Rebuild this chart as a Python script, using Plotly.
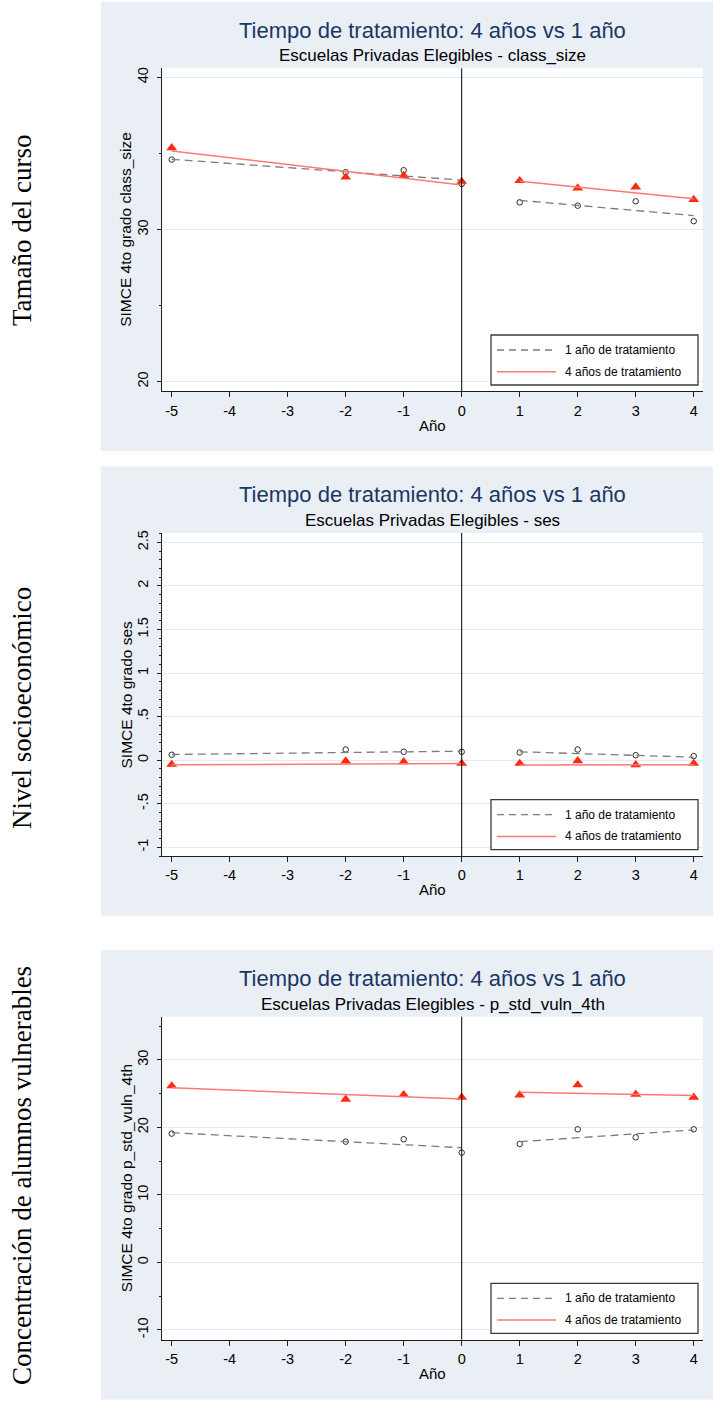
import plotly.graph_objects as go

W, H = 713, 1409

# ---------------- data ----------------
years = [-5, -2, -1, 0, 1, 2, 3, 4]
x_ticks = [-5, -4, -3, -2, -1, 0, 1, 2, 3, 4]
fit_pre_x = [-5, 0]
fit_post_x = [1, 4]

variables = ["class_size", "ses", "p_std_vuln_4th"]
row_labels = ["Tamaño del curso", "Nivel socioeconómico",
              "Concentración de alumnos vulnerables"]
series_names = ["1 año de tratamiento", "4 años de tratamiento"]

class_size_1yr = [34.60, 33.77, 33.90, 33.00, 31.79, 31.57, 31.86, 30.55]
class_size_4yr = [35.37, 33.44, 33.55, 33.16, 33.21, 32.73, 32.79, 31.97]
class_size_fit_1yr_pre = [34.62, 33.25]
class_size_fit_1yr_post = [31.92, 30.92]
class_size_fit_4yr_pre = [35.17, 32.93]
class_size_fit_4yr_post = [33.17, 32.03]

ses_1yr = [0.062, 0.122, 0.096, 0.096, 0.088, 0.122, 0.057, 0.046]
ses_4yr = [-0.049, -0.011, -0.019, -0.038, -0.038, -0.008, -0.053, -0.038]
ses_fit_1yr_pre = [0.065, 0.103]
ses_fit_1yr_post = [0.096, 0.034]
ses_fit_4yr_pre = [-0.053, -0.038]
ses_fit_4yr_post = [-0.057, -0.053]

vuln_1yr = [19.09, 17.90, 18.25, 16.27, 17.56, 19.73, 18.54, 19.73]
vuln_4yr = [26.15, 24.17, 24.86, 24.47, 24.81, 26.30, 24.91, 24.47]
vuln_fit_1yr_pre = [19.23, 17.00]
vuln_fit_1yr_post = [17.90, 19.63]
vuln_fit_4yr_pre = [25.90, 24.20]
vuln_fit_4yr_post = [25.21, 24.72]

class_size_yticks = [20, 30, 40]
class_size_yticktext = ["20", "30", "40"]
ses_yticks = [-1, -0.5, 0, 0.5, 1, 1.5, 2, 2.5]
ses_yticktext = ["-1", "-.5", "0", ".5", "1", "1.5", "2", "2.5"]
vuln_yticks = [-10, 0, 10, 20, 30]
vuln_yticktext = ["-10", "0", "10", "20", "30"]

# ---------------- layout / style ----------------
SANS = "Liberation Sans, Arial, sans-serif"
SERIF = "Liberation Serif, Times New Roman, serif"
NAVY = "#1a3763"
PANEL_BG = "#eaeff5"
GRID = "#e3eaf0"
AXIS = "#1e1e1e"
RED_MARK = "#ff2a10"
RED_LINE = "#ff7878"
GRAY_LINE = "#7c7c7c"
GRAY_DASH = "8px,5px"
GRAY_DASH_LEG = "7px,5px"

panel_offsets = [0.0, 464.7, 948.4]       # px offset of each panel block
plot_top, plot_bot = 68.3, 391.3          # px, inside a panel block
plot_left, plot_right = 162.3, 702.7      # px
x_range = [-5.162, 4.155]

panels = [
    dict(ones=class_size_1yr, fours=class_size_4yr,
         f1pre=class_size_fit_1yr_pre, f1post=class_size_fit_1yr_post,
         f4pre=class_size_fit_4yr_pre, f4post=class_size_fit_4yr_post,
         yticks=class_size_yticks, yticktext=class_size_yticktext,
         yrange=[19.37, 40.60], minor=5, label_y=230),
    dict(ones=ses_1yr, fours=ses_4yr,
         f1pre=ses_fit_1yr_pre, f1post=ses_fit_1yr_post,
         f4pre=ses_fit_4yr_pre, f4post=ses_fit_4yr_post,
         yticks=ses_yticks, yticktext=ses_yticktext,
         yrange=[-1.100, 2.607], minor=0.1, label_y=708),
    dict(ones=vuln_1yr, fours=vuln_4yr,
         f1pre=vuln_fit_1yr_pre, f1post=vuln_fit_1yr_post,
         f4pre=vuln_fit_4yr_pre, f4post=vuln_fit_4yr_post,
         yticks=vuln_yticks, yticktext=vuln_yticktext,
         yrange=[-11.44, 36.41], minor=5, label_y=1176),
]

# legend box geometry (px, inside a panel block)
leg_left, leg_right, leg_top, leg_bot = 491, 698, 335, 385
leg_rows = [350, 371.7]
leg_line_x = [497, 556]
leg_text_x = 563


def py(px):
    """pixel y (from top) -> paper fraction"""
    return 1 - px / H


def pxx(px):
    return px / W


fig = go.Figure()
shapes = []
annotations = []
layout = dict(
    width=W, height=H,
    margin=dict(l=0, r=0, t=0, b=0),
    paper_bgcolor="white",
    plot_bgcolor="rgba(0,0,0,0)",
    showlegend=False,
    font=dict(family=SANS, color="black"),
)

for i, (p, off, var, lab) in enumerate(zip(panels, panel_offsets, variables, row_labels)):
    k = "" if i == 0 else str(i + 1)
    xa, ya = "x" + k, "y" + k

    # panel background and white plot region
    shapes.append(dict(type="rect", xref="paper", yref="paper", layer="below",
                       x0=pxx(101), x1=1.0, y0=py(off + 451.0), y1=py(off + 1.7),
                       fillcolor=PANEL_BG, line=dict(width=0)))
    shapes.append(dict(type="rect", xref="paper", yref="paper", layer="below",
                       x0=pxx(plot_left), x1=pxx(plot_right),
                       y0=py(off + plot_bot), y1=py(off + plot_top),
                       fillcolor="white", line=dict(width=0)))
    # vertical reference line at year 0
    shapes.append(dict(type="line", xref=xa, yref=ya + " domain",
                       x0=0, x1=0, y0=0, y1=1, layer="above",
                       line=dict(color="black", width=1)))

    # markers
    fig.add_trace(go.Scatter(x=years, y=p["ones"], mode="markers", xaxis=xa, yaxis=ya,
                             name=series_names[0],
                             marker=dict(symbol="circle-open", size=5.5, color="#2a2a2a",
                                         line=dict(width=1, color="#2a2a2a")),
                             hoverinfo="x+y"))
    fig.add_trace(go.Scatter(x=years, y=p["fours"], mode="markers", xaxis=xa, yaxis=ya,
                             name=series_names[1],
                             marker=dict(symbol="triangle-up", size=9.5, color=RED_MARK,
                                         line=dict(width=0)),
                             hoverinfo="x+y"))
    # fitted lines (pre / post segments)
    fig.add_trace(go.Scatter(x=fit_pre_x + [None] + fit_post_x,
                             y=p["f1pre"] + [None] + p["f1post"],
                             mode="lines", xaxis=xa, yaxis=ya, name=series_names[0],
                             line=dict(color=GRAY_LINE, width=1.3, dash=GRAY_DASH),
                             connectgaps=False))
    fig.add_trace(go.Scatter(x=fit_pre_x + [None] + fit_post_x,
                             y=p["f4pre"] + [None] + p["f4post"],
                             mode="lines", xaxis=xa, yaxis=ya, name=series_names[1],
                             line=dict(color=RED_LINE, width=1.5),
                             connectgaps=False))

    layout["xaxis" + k] = dict(
        domain=[pxx(plot_left), pxx(plot_right)], anchor=ya, range=x_range,
        tickmode="array", tickvals=x_ticks, ticktext=[str(t) for t in x_ticks],
        ticks="outside", ticklen=5, tickcolor=AXIS, tickwidth=1,
        showline=True, linecolor=AXIS, linewidth=1, mirror=False,
        showgrid=False, zeroline=False, automargin=False,
        tickfont=dict(family=SANS, size=14.5, color="black"), ticklabelstandoff=1)
    layout["yaxis" + k] = dict(
        domain=[py(off + plot_bot), py(off + plot_top)], anchor=xa, range=p["yrange"],
        tickmode="array", tickvals=p["yticks"], ticktext=p["yticktext"], tickangle=-90,
        ticks="outside", ticklen=4, tickcolor=AXIS, tickwidth=1,
        showline=True, linecolor=AXIS, linewidth=1, mirror=False,
        showgrid=True, gridcolor=GRID, gridwidth=1, zeroline=False, automargin=False,
        tickfont=dict(family=SANS, size=14.5, color="black"), ticklabelstandoff=4,
        minor=dict(dtick=p["minor"], tick0=0, ticks="outside", ticklen=2,
                   tickcolor=AXIS, showgrid=False))

    # legend (box, line samples, labels)
    shapes.append(dict(type="rect", xref="paper", yref="paper", layer="above",
                       x0=pxx(leg_left), x1=pxx(leg_right),
                       y0=py(off + leg_bot), y1=py(off + leg_top),
                       fillcolor="white", line=dict(color="#3a3a3a", width=1.3)))
    leg_styles = [dict(color=GRAY_LINE, width=1.3, dash=GRAY_DASH_LEG),
                  dict(color=RED_LINE, width=1.5)]
    for row_y, name, st in zip(leg_rows, series_names, leg_styles):
        shapes.append(dict(type="line", xref="paper", yref="paper", layer="above",
                           x0=pxx(leg_line_x[0]), x1=pxx(leg_line_x[1]),
                           y0=py(off + row_y), y1=py(off + row_y), line=st))
        annotations.append(dict(text=name, x=pxx(leg_text_x), y=py(off + row_y),
                                xref="paper", yref="paper", showarrow=False,
                                xanchor="left", yanchor="middle",
                                font=dict(family=SANS, size=12, color="black")))

    cx = pxx((plot_left + plot_right) / 2)
    annotations += [
        dict(text="Tiempo de tratamiento: 4 años vs 1 año", x=cx, y=py(off + 30),
             xref="paper", yref="paper", showarrow=False, xanchor="center", yanchor="middle",
             font=dict(family=SANS, size=22, color=NAVY)),
        dict(text="Escuelas Privadas Elegibles - " + var, x=cx, y=py(off + 56),
             xref="paper", yref="paper", showarrow=False, xanchor="center", yanchor="middle",
             font=dict(family=SANS, size=17, color="black")),
        dict(text="Año", x=cx, y=py(off + 425),
             xref="paper", yref="paper", showarrow=False, xanchor="center", yanchor="middle",
             font=dict(family=SANS, size=15, color="black")),
        dict(text="SIMCE 4to grado " + var, x=pxx(126),
             y=py(off + (plot_top + plot_bot) / 2), textangle=-90,
             xref="paper", yref="paper", showarrow=False, xanchor="center", yanchor="middle",
             font=dict(family=SANS, size=15.5, color="black")),
        dict(text=lab, x=pxx(22), y=py(p["label_y"]), textangle=-90,
             xref="paper", yref="paper", showarrow=False, xanchor="center", yanchor="middle",
             font=dict(family=SERIF, size=27, color="black")),
    ]

layout["shapes"] = shapes
layout["annotations"] = annotations
fig.update_layout(**layout)

fig.write_html("out.html", config={"displayModeBar": False})
